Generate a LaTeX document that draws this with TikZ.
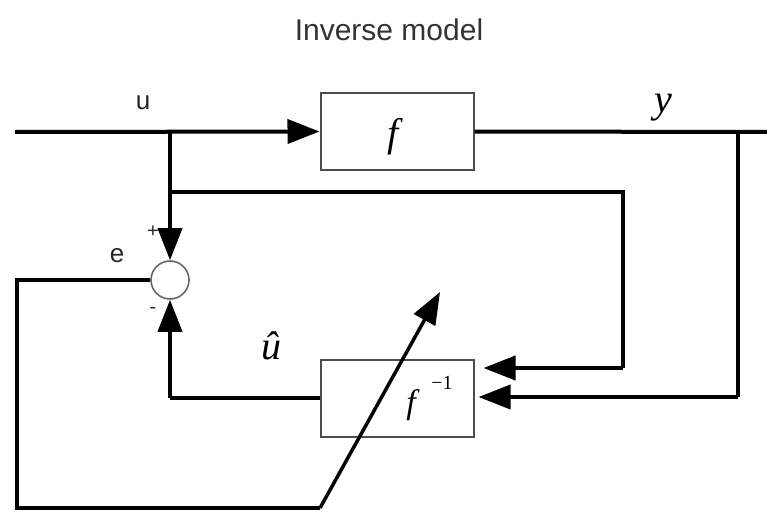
\documentclass[tikz,border=0pt]{standalone}
\usepackage{fontspec}
\newfontfamily\labelsans{Liberation Sans}
\newfontfamily\labelserif{Liberation Serif}
\usetikzlibrary{arrows.meta}
\tikzset{
  wire/.style={line width=4pt, line join=miter},
  arr/.style={wire, -{Triangle[length=32pt,width=24pt]}},
  blk/.style={draw=black!70, line width=2pt, rectangle, minimum width=153pt, minimum height=77pt, inner sep=0pt},
  sumnode/.style={draw=black!60, line width=1.6pt, circle, minimum size=38pt, inner sep=0pt, fill=white},
  sanslbl/.style={font=\labelsans\fontsize{26}{28}\selectfont, text=black!85},
  signlbl/.style={font=\labelsans\fontsize{20}{22}\selectfont, text=black!85},
  mathlbl/.style={font=\labelserif\itshape\fontsize{40}{42}\selectfont, inner sep=0pt},
  suplbl/.style={font=\labelserif\fontsize{20}{22}\selectfont, inner sep=0pt}
}
\begin{document}
\begin{tikzpicture}[x=1pt,y=-1pt]
\useasboundingbox (0,0) rectangle (767,513);
% title
\node[font=\labelsans\fontsize{30}{32}\selectfont, text=black!80] (title) at (389,30) {Inverse model};
% blocks
\node[blk] (f) at (397,131.5) {};
\node[mathlbl] (flbl) at (393,137) {f};
\node[blk] (finv) at (397,398.5) {};
\node[mathlbl, font=\labelserif\itshape\fontsize{34}{36}\selectfont] (finvlbl) at (411,405) {f};
\node[suplbl] (finvsup) at (442,383) {\textminus1};
\node[sumnode] (sum) at (170,280) {};
% coordinates
\coordinate (in) at (15,132);
\coordinate (out) at (767,132);
\coordinate (bu) at (170,132);
\coordinate (bu2) at (170,192);
\coordinate (c1) at (623,192);
\coordinate (c2) at (623,368);
\coordinate (by) at (738,132);
\coordinate (by2) at (738,397);
\coordinate (uh) at (170,398);
\coordinate (e1) at (17,280);
\coordinate (e2) at (17,508);
\coordinate (e3) at (320,508);
\coordinate (etip) at (440,292);
% main path
\draw[arr] (in) -- (f.west);
\draw[wire] (f.east) -- (out);
\draw[arr] (bu) -- (sum.north);
\draw[wire] (bu2) -- (c1) -- (c2);
\draw[arr, shorten >=9pt] (c2) -- (finv.east |- c2);
\draw[wire] (by) -- (by2);
\draw[arr, shorten >=4pt] (by2) -- (finv.east |- by2);
\draw[wire] (finv.west |- uh) -- (uh);
\draw[arr] (uh) -- (sum.south);
\draw[wire] (sum.west) -- (e1) -- (e2) -- (e3);
\draw[arr, line width=3.5pt] (e3) -- (etip);
% labels
\node[sanslbl] (ulbl) at (143,103) {u};
\node[mathlbl] (ylbl) at (663,108) {y};
\node[sanslbl] (elbl) at (117,256) {e};
\node[signlbl] (plus) at (153,232) {+};
\node[signlbl] (minus) at (153,310) {-};
\node[mathlbl] (uhat) at (271,346) {\^u};
\end{tikzpicture}
\end{document}
